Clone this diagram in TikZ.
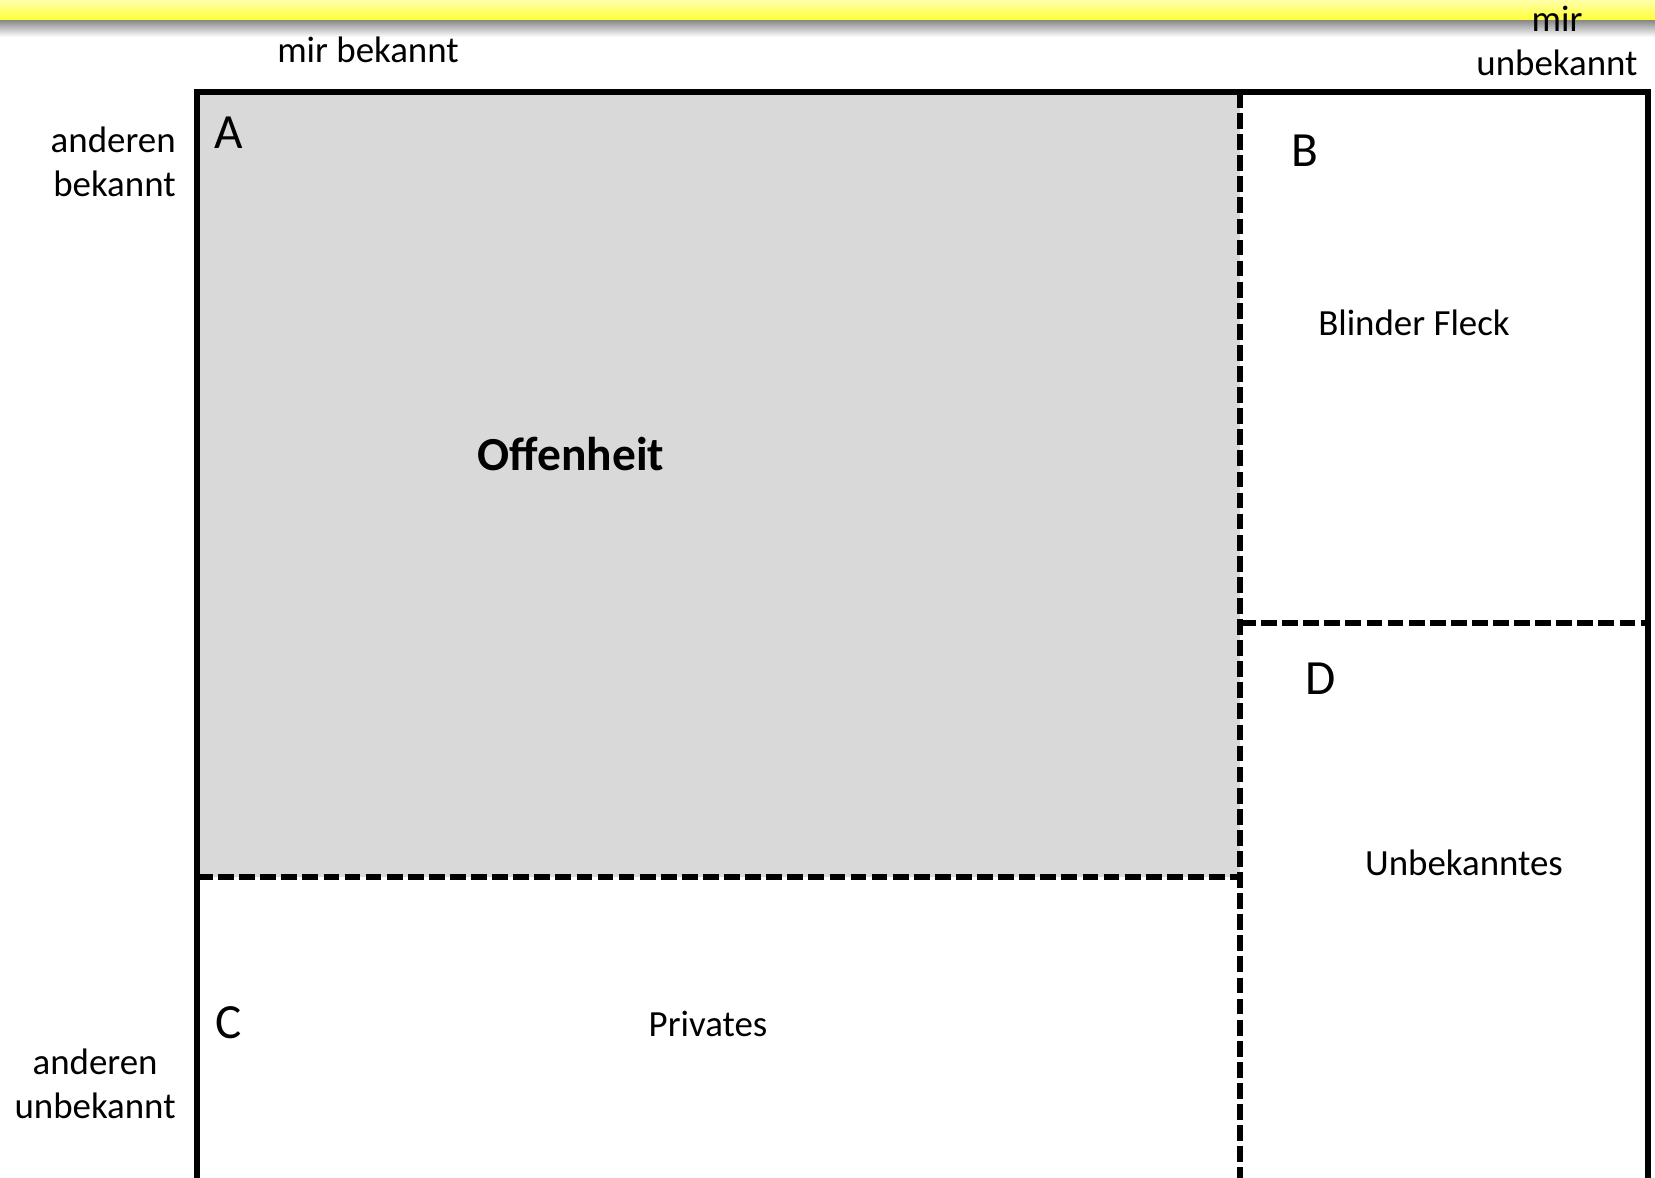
\documentclass[tikz,border=0pt]{standalone}
\usepackage{fontspec}
\setmainfont{Carlito}
\definecolor{feldgrau}{RGB}{217,217,217}
\definecolor{balkengelb}{RGB}{255,255,60}
\definecolor{balkenhell}{RGB}{255,255,170}

\tikzset{
  beschriftung/.style={font=\fontsize{21}{25}\selectfont, align=center, inner sep=0pt},
  buchstabe/.style={font=\fontsize{28}{34}\selectfont, inner sep=0pt},
  trennlinie/.style={line width=3.2pt, dash pattern=on 9pt off 3pt},
  rahmen/.style={line width=3.4pt}
}

\begin{document}
\begin{tikzpicture}[x=0.02cm, y=-0.02cm]
    \clip (0,0) rectangle (1655,1177);
    \fill[white] (0,0) rectangle (1655,1177);
    \shade[top color=gray, bottom color=white] (0,19) rectangle (1655,37);
    \shade[top color=balkenhell, bottom color=balkengelb] (0,0) rectangle (1655,19);
    \fill[feldgrau] (197,92) rectangle (1240,877);
    \draw[trennlinie] (1240,92) -- (1240,1200);
    \draw[trennlinie] (197,877) -- (1240,877);
    \draw[trennlinie] (1240,623) -- (1648,623);
    \draw[rahmen] (197,1200) |- (1648,92) -- (1648,1200);
    \node[beschriftung] (mirbek) at (368,50) {mir bekannt};
    \node[beschriftung] (mirunbek) at (1557,41) {mir\\unbekannt};
    \node[beschriftung, align=right, anchor=east] (andbek) at (176,162) {anderen\\bekannt};
    \node[beschriftung, anchor=east] (andunbek) at (176,1084) {anderen\\unbekannt};
    \node[buchstabe] (feldA) at (229,133) {A};
    \node[buchstabe] (feldB) at (1305,151) {B};
    \node[buchstabe] (feldC) at (229,1023) {C};
    \node[buchstabe] (feldD) at (1321,679) {D};
    \node[font=\fontsize{27}{32}\selectfont\bfseries] (offen) at (571,454) {Offenheit};
    \node[beschriftung] (blind) at (1414,323) {Blinder Fleck};
    \node[beschriftung] (privat) at (708,1024) {Privates};
    \node[beschriftung] (unbek) at (1464,863) {Unbekanntes};
\end{tikzpicture}
\end{document}
